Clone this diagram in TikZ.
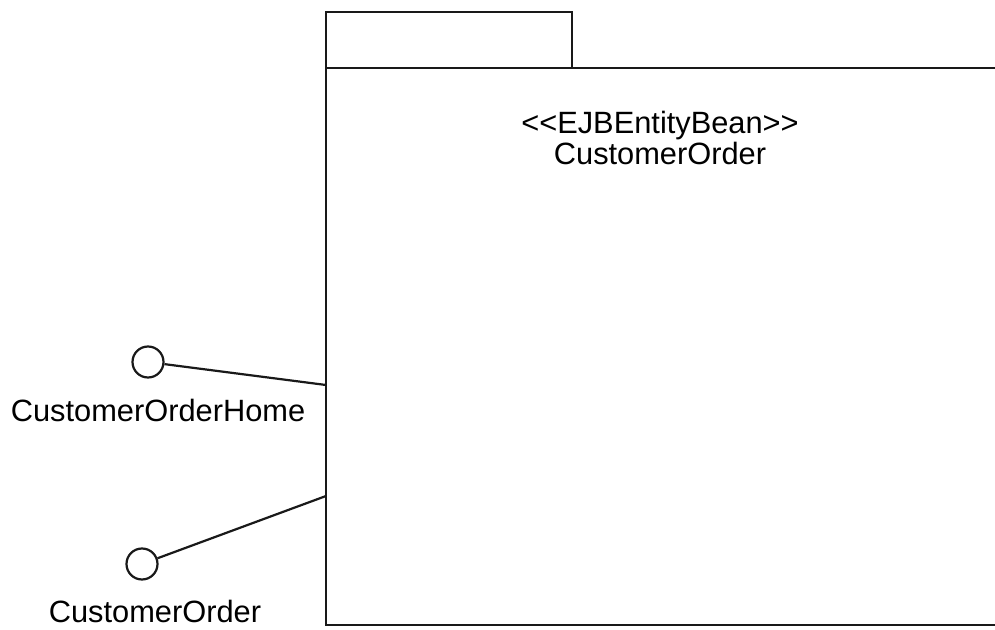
\documentclass[tikz,border=0pt]{standalone}
\usepackage{fontspec}
\setmainfont{Liberation Sans}

\begin{document}
\begin{tikzpicture}[x=0.5pt,y=-0.5pt,
  pkgline/.style={black!90, line width=1.1pt},
  iface/.style={circle, draw, black!90, line width=1.1pt, minimum size=15.5pt, inner sep=0pt},
  lbl/.style={font=\fontsize{15.4}{18}\selectfont, anchor=base}]
\useasboundingbox (0,0) rectangle (995,630);
% package tab and body
\draw[pkgline] (326,68) -- (326,12) -- (572,12) -- (572,68);
\draw[pkgline] (995,68) -- (326,68) -- (326,625) -- (995,625);
\coordinate (homeport) at (326,385);
\coordinate (orderport) at (326,496);
\node[lbl] (stereo) at (660,134) {{<}{<}EJBEntityBean{>}{>}};
\node[lbl] (pkgname) at (660,165) {CustomerOrder};
% interfaces
\node[iface] (home) at (148,362) {};
\draw[pkgline] (home) -- (homeport);
\node[lbl] (homelbl) at (158,422) {CustomerOrderHome};
\node[iface] (order) at (142,564) {};
\draw[pkgline] (order) -- (orderport);
\node[lbl] (orderlbl) at (155,622) {CustomerOrder};
\end{tikzpicture}
\end{document}
